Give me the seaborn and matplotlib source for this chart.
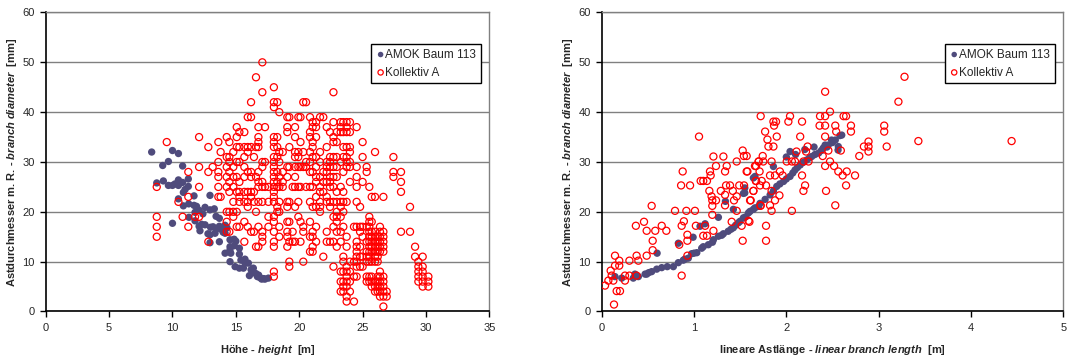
import matplotlib
matplotlib.use('Agg')
import matplotlib.pyplot as plt
import seaborn as sns

# left panel: AMOK tree 113, height [m] vs branch diameter [mm]
amok_height = [8.36, 8.76, 9.28, 9.23, 9.68, 10.0, 10.47, 9.68, 10.0, 10.47,
               10.47, 10.8, 10.8, 10.86, 10.47, 10.86, 11.25, 11.25, 11.28, 11.3,
               10.0, 11.7, 11.7, 11.78, 11.78, 12.1, 12.1, 12.17, 12.57, 12.57,
               12.96, 12.96, 12.96, 12.96, 13.3, 13.36, 13.44, 13.7, 13.7, 13.7,
               13.9, 14.15, 14.15, 14.15, 14.54, 14.54, 14.54, 14.54, 14.86, 14.88,
               14.94, 15.28, 15.28, 15.28, 15.72, 15.72, 15.6, 15.99, 16.07, 16.38,
               16.38, 16.59, 16.7, 16.9, 17.04, 17.3, 17.57,
               13.0, 13.5, 14.0, 14.3, 12.4, 11.0, 10.2, 13.2, 14.6, 15.4,
               16.2, 17.2, 16.8, 15.0, 12.8, 11.9, 12.3]
amok_diam = [32.0, 25.8, 26.2, 29.3, 30.1, 32.3, 31.7, 25.3, 25.3, 26.4,
             25.3, 25.9, 29.2, 23.9, 22.6, 21.2, 26.6, 25.1, 21.6, 18.9,
             17.7, 23.2, 21.3, 19.9, 18.2, 20.3, 17.1, 16.2, 20.9, 17.4,
             23.3, 20.4, 13.8, 15.4, 20.6, 15.7, 19.1, 18.7, 17.1, 14.0,
             16.4, 17.3, 15.7, 11.7, 14.4, 10.0, 13.0, 12.4, 14.5, 13.2,
             9.0, 12.7, 11.5, 8.7, 10.5, 9.7, 8.7, 9.7, 7.2, 8.7,
             7.8, 7.6, 7.0, 6.8, 6.5, 6.5, 6.7,
             16.9, 16.6, 15.9, 16.8, 19.6, 24.5, 25.6, 17.0, 11.7, 10.3,
             8.4, 6.6, 7.3, 14.1, 15.6, 21.1, 17.5]

# left panel: Kollektiv A, one height per stem section, diameters measured there
kol_height = [8.76, 9.55, 10.47, 10.8, 11.25, 11.78, 12.1, 12.83, 13.17, 13.62,
              13.8, 14.28, 14.49, 14.8, 15.07, 15.28, 15.67, 15.94, 16.2, 16.43,
              16.59, 16.78, 17.09, 17.3, 17.57, 18.0, 18.27, 18.43, 18.7, 19.06,
              19.22, 19.48, 19.67, 19.93, 20.1, 20.32, 20.54, 20.85, 21.06, 21.33,
              21.64, 21.9, 22.17, 22.43, 22.7, 22.96, 23.27, 23.48, 23.74, 24.0,
              24.32, 24.53, 24.8, 25.0, 25.32, 25.53, 25.72, 25.98, 26.19, 26.37,
              26.64, 26.9, 27.43, 28.03, 28.74, 29.14, 29.4, 29.74, 30.19]
kol_diam = [
    [25, 19, 17, 15],
    [34],
    [22],
    [19],
    [28, 23, 17],
    [19],
    [35, 29, 25, 19],
    [33, 28, 14],
    [29],
    [34, 30, 28, 27, 25, 23],
    [32, 23],
    [35, 31, 29, 27, 25, 20, 18, 16],
    [34, 31, 30, 28, 26, 24, 20, 16],
    [32, 29, 27, 25, 22, 20, 19],
    [37, 35, 33, 30, 27, 24, 20, 17],
    [36, 33, 30, 26, 24, 23, 22, 17],
    [36, 33, 31, 29, 27, 24, 22, 18, 14],
    [39, 33, 32, 28, 24, 22, 21, 17],
    [42, 39, 33, 28, 27, 24, 23, 16],
    [31, 24, 22, 16],
    [47, 33, 27, 20, 13],
    [37, 35, 34, 33, 28, 26, 25, 22, 17, 13],
    [50, 44, 30, 29, 26, 25, 22, 16, 15, 14],
    [37, 30, 25],
    [25, 22, 19, 17],
    [45, 42, 41, 35, 34, 33, 31, 30, 29, 28, 27, 26, 25, 24, 23, 22, 19, 18, 16, 14, 13, 8, 7],
    [42, 35, 33, 31, 28, 26, 25, 21, 20],
    [40, 32, 30, 27, 25, 22, 20, 17, 15],
    [32, 28, 26, 25],
    [39, 37, 36, 29, 27, 22, 21, 18, 16, 15, 13],
    [39, 33, 29, 22, 18, 14, 10, 9],
    [25, 16, 14],
    [37, 35, 32, 31, 29, 27, 25, 21, 14],
    [39, 32, 31, 29, 25, 22, 19],
    [39, 34, 29, 25, 18, 14],
    [42, 32, 29, 17, 16, 10],
    [42, 30, 29, 25],
    [39, 36, 35, 32, 30, 28, 25, 22, 18, 15, 12],
    [38, 37, 34, 33, 31, 28, 25, 21, 16, 15, 13, 12],
    [38, 37, 35, 31, 29, 27, 26, 23, 21, 17, 14],
    [39, 32, 30, 27, 25, 24, 22, 21, 20],
    [39, 28, 26, 24, 11],
    [37, 33, 30, 29, 28, 26, 23, 22, 16, 14],
    [36, 31, 30, 29, 27, 26, 25, 22, 21, 14],
    [44, 38, 35, 34, 31, 29, 27, 25, 22, 19, 17, 14, 9],
    [36, 34, 31, 29, 27, 24, 22, 20, 19, 18, 16, 13],
    [38, 37, 36, 30, 25, 22, 21, 19, 16, 14, 8, 6, 4],
    [38, 36, 33, 31, 28, 24, 22, 20, 17, 11, 10, 8, 6, 5, 4],
    [38, 37, 36, 33, 31, 30, 29, 22, 15, 13, 9, 8, 7, 6, 5, 3, 2],
    [38, 36, 33, 32, 30, 29, 26, 10, 8, 6, 4],
    [17, 10, 7, 2],
    [37, 29, 27, 25, 22, 17, 14, 13, 12, 11, 10, 9, 7],
    [21, 17, 16, 13, 11, 9],
    [34, 31, 26, 17, 15, 11, 9],
    [29, 28, 17, 14, 12, 11, 10, 7, 6],
    [25, 19, 18, 17, 16, 15, 14, 13, 12, 11, 10, 7, 6],
    [23, 18, 16, 15, 14, 13, 12, 10, 7, 6, 5],
    [32, 23, 16, 15, 14, 13, 12, 11, 10, 6, 5, 4],
    [15, 14, 13, 12, 11, 10, 7, 6, 5, 4],
    [17, 16, 15, 14, 13, 12, 8, 7, 6, 5, 4, 3],
    [23, 16, 15, 14, 13, 12, 7, 6, 5, 4, 3, 1],
    [4, 3],
    [31, 28, 27],
    [28, 26, 24, 16],
    [21, 16],
    [13, 11],
    [10, 9, 8, 7, 6],
    [11, 9, 8, 7, 6, 5],
    [7, 6, 5],
]

# right panel: AMOK tree 113, linear branch length [m] vs diameter [mm]
amok_length = [0.144, 0.217, 0.342, 0.397, 0.487, 0.541, 0.596, 0.65, 0.71, 0.776,
               0.83, 0.884, 0.938, 0.975, 1.03, 1.083, 1.155, 1.21, 1.264, 1.318,
               1.37, 1.426, 1.48, 1.535, 1.59, 1.643, 1.70, 0.36, 0.47, 0.51,
               0.60, 0.83, 0.99, 1.065, 1.12, 1.264, 1.34, 1.426, 1.55, 1.643,
               1.55, 1.498, 1.607, 1.715, 1.824, 1.896, 1.97, 2.04, 2.094, 2.15,
               2.22, 2.275, 2.35, 2.40, 2.455, 2.53, 2.58, 2.563,
               1.535, 1.66, 1.86, 2.04, 2.42, 2.49, 2.56, 2.60,
               1.56, 1.66, 1.77, 1.86, 1.93, 2.0, 2.07, 2.12, 2.18, 2.25,
               2.31, 2.38, 2.44, 2.50, 1.45, 1.40, 1.30, 1.2, 1.1, 1.0,
               0.9, 2.0, 2.1, 2.2, 2.3]
amok_diam2 = [7.0, 6.7, 6.7, 7.0, 7.5, 8.0, 8.5, 8.8, 9.0, 9.0,
              9.8, 10.3, 10.7, 11.6, 11.8, 12.7, 13.4, 14.4, 15.1, 15.6,
              16.1, 16.8, 17.8, 18.8, 19.8, 20.5, 21.1, 7.5, 7.5, 7.8,
              11.7, 13.7, 14.9, 17.1, 17.6, 18.9, 22.1, 20.5, 23.8, 26.8,
              24.8, 18.1, 20.1, 21.7, 23.4, 25.1, 26.1, 27.1, 28.4, 29.4,
              30.4, 31.1, 31.8, 32.8, 33.4, 34.4, 35.3, 33.1,
              23.7, 27.1, 29.1, 32.1, 33.4, 34.4, 32.4, 35.4,
              19.0, 20.8, 22.5, 24.2, 25.6, 26.6, 27.8, 28.9, 29.9, 30.8,
              31.5, 32.3, 33.0, 33.9, 17.3, 16.5, 15.3, 13.9, 13.0, 11.7,
              10.5, 31.0, 31.5, 32.5, 33.0]

# right panel: Kollektiv A
kol_length = [0.036, 0.072, 0.126, 0.108, 0.097, 0.144, 0.144, 0.19, 0.19, 0.162,
              0.198, 0.133, 0.252, 0.252, 0.30, 0.30, 0.378, 0.378, 0.397, 0.487,
              0.37, 0.458, 0.487, 0.541, 0.552, 0.552, 0.58, 0.65, 0.70, 0.794,
              0.84, 0.866, 0.866, 0.89, 0.877, 0.86, 0.957, 0.917, 0.928, 0.928,
              0.928, 1.01, 1.02, 1.054, 1.072, 1.10, 1.14, 1.12, 1.14, 1.10,
              1.166, 1.173, 1.18, 1.19, 1.198, 1.198, 1.198, 1.21, 1.21, 1.238,
              1.238, 1.29, 1.318, 1.336, 1.336, 1.336, 1.347, 1.354, 1.39, 1.408,
              1.42, 1.433, 1.462, 1.462, 1.462, 1.49, 1.516, 1.527, 1.527, 1.54,
              1.57, 1.60, 1.614, 1.643, 1.66, 1.67, 1.70, 1.72,
              1.722, 1.86, 1.888, 1.77, 1.795, 1.806, 1.86, 1.867, 1.896, 1.75,
              1.744, 1.70, 1.84, 1.57, 1.578, 1.672, 1.71, 1.823, 1.877, 1.93,
              1.96, 1.542, 1.643, 1.672, 1.733, 1.715, 1.78, 1.607, 1.722, 1.823,
              1.84, 1.877, 1.925, 1.78, 1.78, 1.59, 1.84, 2.004, 2.06, 2.094,
              2.185, 2.24, 2.11, 2.17, 2.203, 2.185, 2.06, 2.15, 2.022, 2.04,
              2.17, 2.213, 2.23, 2.365, 2.42, 2.36, 2.42, 2.42, 2.473, 2.42,
              2.394, 2.42, 2.43, 2.455, 2.473, 2.517, 2.53, 2.54, 2.53, 2.563,
              2.59, 2.62, 2.647, 2.61, 2.654, 2.647, 2.70, 2.70, 2.744, 2.79,
              2.84, 2.89, 2.89, 2.89, 3.06, 3.06, 3.087, 3.214, 3.28, 3.43, 4.44]
kol_diam2 = [5.2, 6.2, 6.2, 7.2, 8.2, 9.2, 11.2, 10.2, 9.2, 4.1,
             4.1, 1.4, 7.2, 6.2, 7.2, 10.2, 11.2, 7.2, 10.2, 11.2,
             17.2, 18.0, 16.2, 21.2, 14.2, 12.3, 16.2, 17.2, 16.2, 20.2,
             13.4, 7.2, 17.2, 18.1, 28.1, 25.3, 25.3, 20.2, 14.2, 15.4,
             11.2, 20.2, 17.2, 35.1, 26.2, 26.2, 26.2, 17.2, 15.2, 15.2,
             24.2, 28.1, 27.3, 23.1, 22.3, 21.2, 19.4, 16.2, 31.1, 29.2,
             22.3, 24.2, 31.1, 28.1, 23.4, 21.3, 25.3, 29.2, 25.3, 18.0,
             24.2, 22.3, 30.1, 23.1, 20.2, 25.3, 17.2, 32.3, 14.2, 31.2,
             28.1, 18.0, 22.3, 24.2, 29.2, 26.2, 30.1, 21.2,
             39.2, 38.1, 38.1, 36.1, 34.5, 33.1, 33.1, 37.3, 35.1, 30.1,
             31.2, 30.1, 30.1, 31.2, 28.1, 29.2, 28.1, 27.3, 27.3, 28.1,
             27.3, 25.3, 24.2, 26.2, 26.2, 25.3, 25.3, 22.3, 21.3, 21.3,
             20.2, 22.3, 23.3, 17.2, 14.2, 18.2, 24.2, 30.1, 30.1, 30.1,
             30.1, 30.1, 32.1, 27.3, 25.3, 24.2, 20.2, 35.1, 38.1, 39.2,
             38.1, 32.1, 33.1, 39.2, 39.2, 37.3, 37.3, 44.1, 40.1, 35.1,
             31.2, 29.2, 24.2, 32.3, 30.1, 29.2, 37.3, 36.1, 21.3, 28.1,
             32.3, 39.2, 39.2, 27.3, 28.1, 25.3, 37.3, 36.1, 27.3, 31.2,
             33.1, 34.1, 33.1, 32.1, 37.3, 36.1, 33.1, 42.1, 47.1, 34.2, 34.2]

y_label = r"Astdurchmesser m. R. - $\mathbfit{branch\ diameter}$  [mm]"
x_label_left = r"Höhe - $\mathbfit{height}$  [m]"
x_label_right = r"lineare Astlänge - $\mathbfit{linear\ branch\ length}$  [m]"

AMOK_COLOR = '#4F4B7C'
KOL_COLOR = '#FF0000'

sns.set_style('white')
plt.rcParams['font.family'] = ['Liberation Sans', 'DejaVu Sans']
plt.rcParams['mathtext.fontset'] = 'custom'
plt.rcParams['mathtext.rm'] = 'Liberation Sans'
plt.rcParams['mathtext.it'] = 'Liberation Sans:italic'
plt.rcParams['mathtext.bf'] = 'Liberation Sans:bold'
try:
    plt.rcParams['mathtext.bfit'] = 'Liberation Sans:italic:bold'
except KeyError:
    pass

# expand the section columns into flat point lists
kol_x = [h for h, ds in zip(kol_height, kol_diam) for _ in ds]
kol_y = [d for ds in kol_diam for d in ds]


def style_axes(ax, xmax, xstep, xlabel, label_x):
    ax.set_xlim(0, xmax)
    ax.set_ylim(0, 60)
    ax.set_xticks([i * xstep for i in range(int(round(xmax / xstep)) + 1)])
    ax.set_yticks(range(0, 61, 10))
    ax.yaxis.grid(True, color='#808080', linewidth=1.0)
    ax.xaxis.grid(False)
    ax.set_axisbelow(True)
    for side in ['left', 'bottom']:
        ax.spines[side].set_color('black')
        ax.spines[side].set_linewidth(1.2)
    for side in ['top', 'right']:
        ax.spines[side].set_color('#808080')
        ax.spines[side].set_linewidth(1.0)
    ax.tick_params(direction='out', length=4, width=1, color='black',
                   labelsize=8, pad=4, left=True, bottom=True)
    ax.set_xlabel(xlabel, fontsize=8, fontweight='bold')
    ax.set_ylabel(y_label, fontsize=8, fontweight='bold')
    ax.xaxis.set_label_coords(0.5, -0.105)
    ax.yaxis.set_label_coords(label_x, 0.5)
    ax.legend(loc='upper right', bbox_to_anchor=(0.981, 0.895), borderaxespad=0,
              frameon=True, fancybox=False, edgecolor='black', framealpha=1,
              fontsize=8.5, handletextpad=0.0, handlelength=0.8,
              borderpad=0.4, labelspacing=0.5, markerscale=0.75)
    ax.get_legend().get_frame().set_linewidth(1.0)


fig = plt.figure(figsize=(10.68, 3.58), dpi=100)
ax1 = fig.add_axes([0.0428, 0.1299, 0.4154, 0.8352])
ax2 = fig.add_axes([0.5634, 0.1299, 0.4322, 0.8352])

sns.scatterplot(x=amok_height, y=amok_diam, ax=ax1, color=AMOK_COLOR, s=28,
                edgecolor='none', label='AMOK Baum 113', zorder=3)
sns.scatterplot(x=kol_x, y=kol_y, ax=ax1, facecolors='none', edgecolor=KOL_COLOR,
                linewidth=0.9, s=26, label='Kollektiv A', zorder=4)
style_axes(ax1, 35, 5, x_label_left, -0.061)

sns.scatterplot(x=amok_length, y=amok_diam2, ax=ax2, color=AMOK_COLOR, s=28,
                edgecolor='none', label='AMOK Baum 113', zorder=3)
sns.scatterplot(x=kol_length, y=kol_diam2, ax=ax2, facecolors='none', edgecolor=KOL_COLOR,
                linewidth=0.9, s=26, label='Kollektiv A', zorder=4)
style_axes(ax2, 5, 1, x_label_right, -0.058)

fig.savefig('out.png', dpi=100)
